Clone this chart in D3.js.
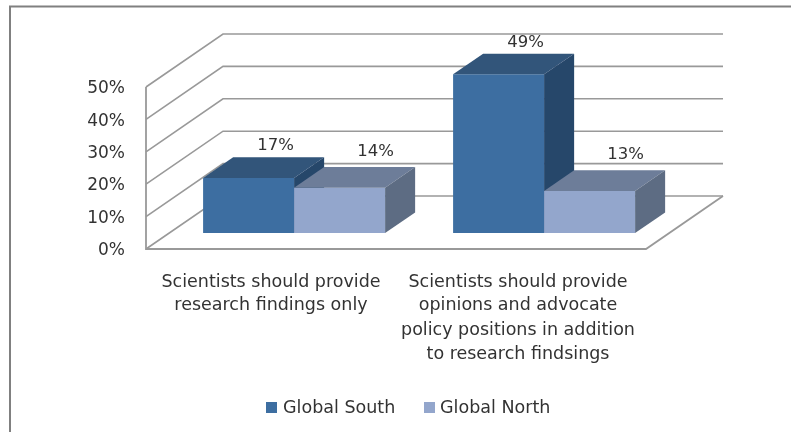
<!DOCTYPE html>
<html><head><meta charset="utf-8">
<script src="https://cdn.jsdelivr.net/npm/d3@7"></script>
<style>html,body{margin:0;padding:0;background:#fff}svg{display:block}text{font-family:"DejaVu Sans";fill:#333}</style>
</head><body><svg id="c" width="791" height="432"></svg>
<script>
const categories = [
  ["Scientists should provide","research findings only"],
  ["Scientists should provide","opinions and advocate","policy positions in addition","to research findsings"]
];
const seriesNames = ["Global South","Global North"];
const globalSouth = [17,49];
const globalNorth = [14,13];
const yTicks = [0,10,20,30,40,50];
const frontColors = ["#3c6ea1","#93a6cc"];
const topColors = ["#31547a","#6d7d99"];
const sideColors = ["#26466b","#5d6c83"];

const svg = d3.select("#c");
const blur = svg.append("defs").append("filter").attr("id","b").attr("filterUnits","userSpaceOnUse")
  .attr("x",0).attr("y",0).attr("width",791).attr("height",432);
blur.append("feGaussianBlur").attr("stdDeviation",0.45);
const g = svg.append("g").attr("filter","url(#b)");

g.append("path").attr("d","M10,433V6.5H792").attr("fill","none").attr("stroke","#808080").attr("stroke-width",2);

const y = d3.scaleLinear().domain([0,50]).range([249,87]);
const x = d3.scaleLinear().domain([0,1]).range([146,646]);
const depth = {dx:77, dy:-53};
const P = (fx,val,d)=>[x(fx)+depth.dx*d, y(val)+depth.dy*d];
const line = d3.line();
const gridColor = "#999";

yTicks.forEach(t=>{
  g.append("path").attr("d",line([P(0,t,0),P(0,t,1),P(1,t,1)]))
   .attr("fill","none").attr("stroke",gridColor).attr("stroke-width",1.6);
  g.append("text").attr("x",125).attr("y",y(t)).attr("dy","0.36em").attr("text-anchor","end")
   .attr("font-size",17).text(t+"%");
});
g.append("path").attr("d",line([P(0,50,0),P(0,0,0),P(1,0,0),P(1,0,1)]))
 .attr("fill","none").attr("stroke",gridColor).attr("stroke-width",1.8);

const band = d3.scaleBand().domain(d3.range(categories.length)).range([0,1]);
const gapFrac = 34/250;
const d0 = 0.30, d1 = 0.69;
const values = [globalSouth, globalNorth];
const labelDx = [-3,6], labelDy = [-7,-11.5];
categories.forEach((c,i)=>{
  const start = band(i);
  const w = band.bandwidth();
  const inner = d3.scaleBand().domain([0,1]).range([start+w*gapFrac, start+w*(1-gapFrac)]);
  [0,1].forEach(s=>{
    const v = values[s][i];
    const xl = inner(s), xr = xl+inner.bandwidth();
    g.append("path").attr("fill",frontColors[s])
      .attr("d",line([P(xl,0,d0),P(xr,0,d0),P(xr,v,d0),P(xl,v,d0)])+"Z");
    g.append("path").attr("fill",topColors[s])
      .attr("d",line([P(xl,v,d0),P(xr,v,d0),P(xr,v,d1),P(xl,v,d1)])+"Z");
    g.append("path").attr("fill",sideColors[s])
      .attr("d",line([P(xr,0,d0),P(xr,0,d1),P(xr,v,d1),P(xr,v,d0)])+"Z");
    const p = P((xl+xr)/2,v,d1);
    g.append("text").attr("x",p[0]+labelDx[s]).attr("y",p[1]+labelDy[s]).attr("text-anchor","middle")
      .attr("font-size",16.5).text(v+"%");
  });
});

const catCenters = [271,518];
const lineY = [287,310,335,359];
categories.forEach((c,i)=>{
  const t = g.append("text").attr("text-anchor","middle").attr("font-size",17.5);
  c.forEach((l,k)=>t.append("tspan").attr("x",catCenters[i]).attr("y",lineY[k]).text(l));
});

const legX = [266,424], legT=[283,440];
seriesNames.forEach((n,i)=>{
  g.append("rect").attr("x",legX[i]).attr("y",402).attr("width",11).attr("height",11).attr("fill",frontColors[i]);
  g.append("text").attr("x",legT[i]).attr("y",413).attr("font-size",17.5).text(n);
});
</script></body></html>
